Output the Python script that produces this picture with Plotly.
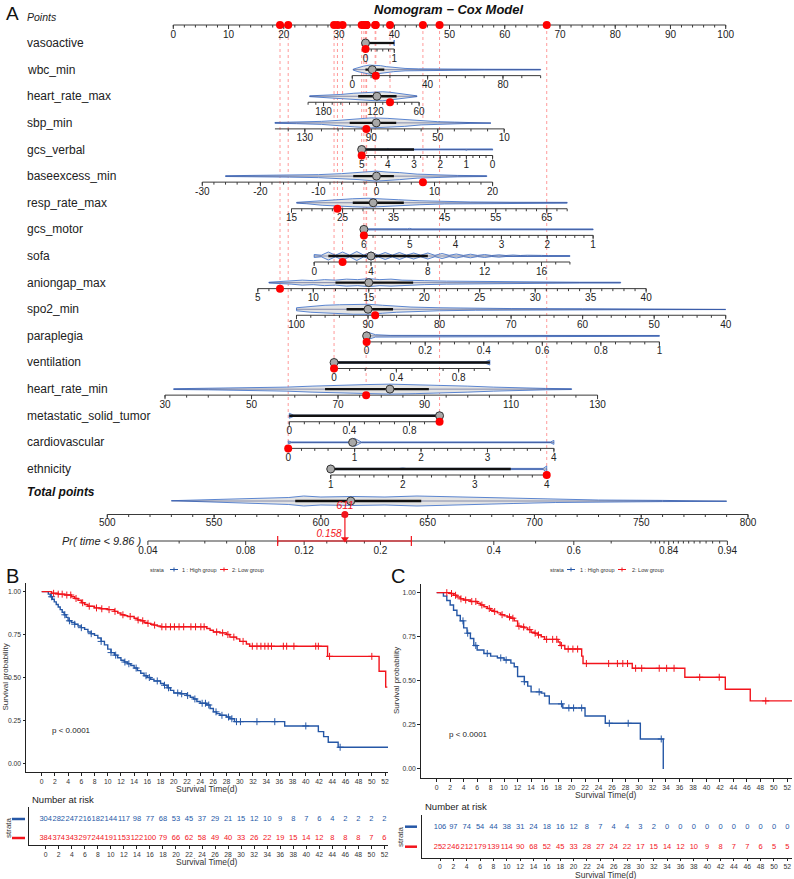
import numpy as np
import plotly.graph_objects as go

FONT = "Liberation Sans, Arial, Helvetica, sans-serif"
W, H = 794, 879

# ======================= NOMOGRAM DATA =======================
variables = ["vasoactive", "wbc_min", "heart_rate_max", "sbp_min", "gcs_verbal",
             "baseexcess_min", "resp_rate_max", "gcs_motor", "sofa", "aniongap_max",
             "spo2_min", "paraplegia", "ventilation", "heart_rate_min",
             "metastatic_solid_tumor", "cardiovascular", "ethnicity"]

# predictor value -> points (model scale knots); first/last value = axis ends
scale_values = {
    "vasoactive": [0, 1], "wbc_min": [0, 100], "heart_rate_max": [200, 180, 120, 60],
    "sbp_min": [148, 10], "gcs_verbal": [5, 0], "baseexcess_min": [-30, 20],
    "resp_rate_max": [15, 69], "gcs_motor": [6, 1], "sofa": [0, 18],
    "aniongap_max": [5, 40], "spo2_min": [100, 40], "paraplegia": [0, 1],
    "ventilation": [0, 1], "heart_rate_min": [30, 130], "metastatic_solid_tumor": [0, 1],
    "cardiovascular": [0, 4], "ethnicity": [1, 4],
}
scale_points = {
    "vasoactive": [34.8, 40.0], "wbc_min": [32.4, 66.5], "heart_rate_max": [24.4, 27.2, 36.6, 44.5],
    "sbp_min": [18.4, 59.9], "gcs_verbal": [34.1, 57.8], "baseexcess_min": [5.25, 57.8],
    "resp_rate_max": [21.4, 71.3], "gcs_motor": [34.5, 76.0], "sofa": [25.5, 71.8],
    "aniongap_max": [15.3, 85.6], "spo2_min": [22.3, 100.0], "paraplegia": [35.0, 88.0],
    "ventilation": [29.1, 57.3], "heart_rate_min": [-1.5, 76.8], "metastatic_solid_tumor": [21.0, 48.2],
    "cardiovascular": [20.8, 68.9], "ethnicity": [28.5, 67.6],
}
tick_labels = {
    "vasoactive": [0, 1], "wbc_min": [0, 40, 80], "heart_rate_max": [180, 120, 60],
    "sbp_min": [130, 90, 50, 10], "gcs_verbal": [5, 4, 3, 2, 1, 0],
    "baseexcess_min": [-30, -20, -10, 0, 10, 20], "resp_rate_max": [15, 25, 35, 45, 55, 65],
    "gcs_motor": [6, 5, 4, 3, 2, 1], "sofa": [0, 4, 8, 12, 16],
    "aniongap_max": [5, 10, 15, 20, 25, 30, 35, 40], "spo2_min": [100, 90, 80, 70, 60, 50, 40],
    "paraplegia": [0, 0.2, 0.4, 0.6, 0.8, 1], "ventilation": [0, 0.4, 0.8],
    "heart_rate_min": [30, 50, 70, 90, 110, 130], "metastatic_solid_tumor": [0, 0.4, 0.8],
    "cardiovascular": [0, 1, 2, 3, 4], "ethnicity": [1, 2, 3, 4],
}
minor_step = {
    "vasoactive": 0.2, "wbc_min": 10, "heart_rate_max": 10, "sbp_min": 10, "gcs_verbal": 0.25,
    "baseexcess_min": 2, "resp_rate_max": 2, "gcs_motor": 0.2, "sofa": 1, "aniongap_max": 1,
    "spo2_min": 2, "paraplegia": 0.05, "ventilation": 0.1, "heart_rate_min": 5,
    "metastatic_solid_tumor": 0.1, "cardiovascular": 0.2, "ethnicity": 0.2,
}
observed = {
    "vasoactive": 0, "wbc_min": 12.5, "heart_rate_max": 100, "sbp_min": 93, "gcs_verbal": 5,
    "baseexcess_min": 8, "resp_rate_max": 24, "gcs_motor": 6, "sofa": 2, "aniongap_max": 7,
    "spo2_min": 89, "paraplegia": 0, "ventilation": 0, "heart_rate_min": 76.5,
    "metastatic_solid_tumor": 1, "cardiovascular": 0, "ethnicity": 4,
}
medians = {
    "vasoactive": 0, "wbc_min": 10.6, "heart_rate_max": 118, "sbp_min": 87, "gcs_verbal": 5,
    "baseexcess_min": 0, "resp_rate_max": 31, "gcs_motor": 6, "sofa": 4, "aniongap_max": 15,
    "spo2_min": 90, "paraplegia": 0, "ventilation": 0, "heart_rate_min": 82,
    "metastatic_solid_tumor": 1, "cardiovascular": 0.97, "ethnicity": 1,
}
iqr = {
    "vasoactive": [0, 1], "wbc_min": [7, 17], "heart_rate_max": [91, 140], "sbp_min": [75, 103],
    "gcs_verbal": [3, 5], "baseexcess_min": [-4, 3], "resp_rate_max": [27, 37], "gcs_motor": [6, 6],
    "sofa": [1, 8], "aniongap_max": [12, 19], "spo2_min": [86.5, 93], "paraplegia": [0, 0],
    "ventilation": [0, 1], "heart_rate_min": [67, 91], "metastatic_solid_tumor": [0, 1],
    "cardiovascular": [1, 1], "ethnicity": [1, 3.5],
}
density_values = {
    "vasoactive": [0, 0.02, 0.98, 1],
    "wbc_min": [0.5, 3, 6, 9, 12, 15, 18, 22, 28, 35, 50, 70, 100],
    "heart_rate_max": [198, 180, 160, 145, 130, 120, 110, 100, 90, 80, 70, 63],
    "sbp_min": [148, 135, 120, 110, 100, 90, 80, 70, 60, 50, 40, 30, 18],
    "gcs_verbal": [5, 4.95, 4.05, 4, 3.95, 1.05, 1, 0.95, 0.05, 0],
    "baseexcess_min": [-26, -20, -15, -10, -6, -3, 0, 2, 4, 7, 10, 14, 19],
    "resp_rate_max": [16, 18, 21, 24, 27, 30, 33, 36, 40, 45, 50, 58, 69],
    "gcs_motor": [6, 5.95, 5.05, 5, 4.95, 1.05, 1],
    "sofa": [0, 0.5, 1, 1.5, 2, 2.5, 3, 3.5, 4, 4.5, 5, 5.5, 6, 6.5, 7, 7.5, 8, 8.5, 9, 9.5,
             10, 10.5, 11, 11.5, 12, 12.5, 13, 13.5, 14, 14.5, 15, 15.5, 16, 16.5, 17, 17.5, 18],
    "aniongap_max": [6, 7, 8, 9, 10, 11, 12, 13, 14, 15, 16, 17, 18, 19, 20, 22, 24, 26, 30, 34, 37.7],
    "spo2_min": [100, 98, 96, 94, 92, 90, 88, 86, 84, 80, 75, 70, 60, 50, 40],
    "paraplegia": [0, 0.03, 0.08, 1],
    "ventilation": [0, 0.03, 0.97, 1],
    "heart_rate_min": [32, 40, 50, 58, 64, 70, 76, 82, 88, 94, 100, 106, 112, 118, 124],
    "metastatic_solid_tumor": [0, 0.03, 0.97, 1],
    "cardiovascular": [0, 0.05, 0.9, 1, 1.1, 1.95, 2, 2.05, 2.95, 3, 3.05, 3.95, 4],
    "ethnicity": [1, 1.05, 1.95, 2, 2.05, 2.95, 3, 3.05, 3.95, 4],
}
density_widths = {
    "vasoactive": [1.5, 0.5, 0.5, 3],
    "wbc_min": [0.5, 2, 3.5, 4.5, 4.5, 4, 3, 2, 1.2, 0.8, 0.5, 0.4, 0.3],
    "heart_rate_max": [0.4, 0.8, 1.8, 3, 4, 4.5, 4.5, 4, 3, 2, 1, 0.4],
    "sbp_min": [0.4, 0.8, 1.5, 2.5, 4, 5, 4.5, 3.5, 2, 1.2, 0.8, 0.5, 0.3],
    "gcs_verbal": [4, 0.4, 0.4, 1.0, 0.4, 0.4, 1.0, 0.4, 0.4, 0.6],
    "baseexcess_min": [0.4, 0.6, 1, 1.5, 2.5, 3.5, 5, 4, 3.5, 2, 1.2, 0.7, 0.4],
    "resp_rate_max": [0.4, 1, 2.5, 3.5, 4, 4.5, 4, 3, 2, 1.2, 0.8, 0.5, 0.4],
    "gcs_motor": [4, 0.6, 0.6, 1.0, 0.5, 0.4, 0.4],
    "sofa": [1.5, 0.8, 4, 0.8, 4, 0.8, 4.5, 0.8, 4, 0.8, 3.5, 0.8, 3.5, 0.8, 3, 0.8, 3, 0.7, 2.5,
             0.7, 2, 0.6, 1.8, 0.6, 1.5, 0.5, 1.2, 0.5, 1, 0.5, 0.8, 0.4, 0.6, 0.4, 0.5, 0.4, 0.4],
    "aniongap_max": [0.4, 1, 1.5, 2.5, 2, 3, 2.5, 3.5, 3, 4, 3, 3.5, 2.5, 2.5, 2, 1.5, 1.2, 1, 0.6, 0.4, 0.4],
    "spo2_min": [1.5, 3, 4, 4.5, 5, 5, 4, 3, 2.2, 1.5, 1, 0.7, 0.5, 0.4, 0.3],
    "paraplegia": [4, 1.2, 0.5, 0.4],
    "ventilation": [3.5, 0.6, 0.6, 2.5],
    "heart_rate_min": [0.4, 0.7, 1.2, 2, 3, 4, 4.5, 5, 4.5, 4, 3, 2, 1.2, 0.7, 0.4],
    "metastatic_solid_tumor": [2.5, 0.5, 0.5, 4],
    "cardiovascular": [1.5, 0.4, 0.4, 4, 0.4, 0.4, 0.9, 0.4, 0.4, 0.9, 0.4, 0.4, 2],
    "ethnicity": [4, 0.6, 0.6, 1.0, 0.6, 0.6, 1.0, 0.6, 0.6, 3],
}

points_ticks = [0, 10, 20, 30, 40, 50, 60, 70, 80, 90, 100]
total_ticks = [500, 550, 600, 650, 700, 750, 800]
total_median, total_iqr = 614, [588, 647]
total_density_values = [530, 550, 570, 585, 592, 600, 615, 630, 645, 655, 670, 690, 710, 730, 760, 790]
total_density_widths = [0.3, 1.2, 2.5, 3.5, 5, 4, 4.5, 4, 5, 4.5, 3.5, 2.5, 1.5, 1, 0.6, 0.3]
prob_ticks = [0.04, 0.08, 0.12, 0.2, 0.4, 0.6, 0.84, 0.94]
prob_minor = [0.05, 0.06, 0.07, 0.1, 0.14, 0.16, 0.18, 0.3, 0.5, 0.7, 0.8, 0.81, 0.82, 0.83,
              0.85, 0.86, 0.87, 0.88, 0.89, 0.9, 0.91, 0.92, 0.93]
cloglog_intercept, cloglog_slope = -11.295, 0.0156   # cloglog(Pr) = a + b * total points
ci_low, ci_high = 0.10, 0.244

# ======================= KM DATA =======================
time_ticks = list(range(0, 53, 2))
# Panel B
bh_t = [0, 1.0, 1.3, 1.6, 1.9, 2.2, 2.5, 2.8, 3.1, 3.4, 3.7, 4.0, 4.5, 5.0, 5.5, 6.0, 6.5, 7.0, 7.5, 8.0,
        8.5, 9.0, 9.5, 10.0, 10.5, 11.0, 11.5, 12.0, 12.5, 13.0, 13.5, 14.0, 14.5, 15.0, 15.5, 16.0,
        16.5, 17.0, 18.0, 18.5, 19.0, 19.5, 20.0, 21.0, 22.0, 22.5, 23.0, 23.5, 24.0, 25.0, 25.5, 26.0,
        26.5, 27.0, 28.0, 28.5, 29.2, 36.8, 41.9, 42.7, 43.4, 44.9]
bh_s = [1.0, 0.985, 0.97, 0.955, 0.94, 0.925, 0.91, 0.895, 0.88, 0.865, 0.85, 0.83, 0.82, 0.81, 0.80,
        0.79, 0.78, 0.765, 0.755, 0.745, 0.73, 0.71, 0.69, 0.665, 0.645, 0.63, 0.615, 0.60, 0.59, 0.58,
        0.57, 0.555, 0.54, 0.525, 0.51, 0.50, 0.49, 0.48, 0.465, 0.455, 0.44, 0.425, 0.41, 0.405, 0.395,
        0.385, 0.375, 0.36, 0.35, 0.34, 0.32, 0.30, 0.29, 0.28, 0.27, 0.26, 0.243, 0.218, 0.185, 0.156,
        0.123, 0.094]
bh_end = 52.45
bh_cens = [1.5, 3.5, 4.2, 5, 6, 7.5, 9, 10.5, 11.2, 12.6, 13.2, 14.3, 15.8, 16.3, 17.5, 18.6, 19.2,
           20.6, 21.2, 22.1, 23.2, 24.3, 24.8, 25.3, 26.4, 27.3, 28.3, 28.8, 29.5, 30.1, 32.6, 35.3, 40.0, 45.2]
bl_t = [0, 1.5, 2.5, 3.5, 4.5, 5.0, 5.5, 6.0, 6.5, 7.0, 8.0, 9.0, 10.0, 11.0, 11.5, 12.0, 12.5, 13.0,
        14.0, 14.5, 15.0, 15.5, 16.0, 16.5, 17.0, 17.5, 18.0, 25.0, 25.5, 26.0, 27.0, 28.0, 28.5, 29.5,
        30.0, 31.0, 31.5, 43.3, 51.1, 52.1]
bl_s = [1.0, 0.99, 0.985, 0.98, 0.97, 0.96, 0.95, 0.935, 0.925, 0.915, 0.905, 0.9, 0.895, 0.885, 0.875,
        0.865, 0.86, 0.855, 0.845, 0.835, 0.83, 0.82, 0.815, 0.81, 0.805, 0.80, 0.795, 0.785, 0.775,
        0.765, 0.76, 0.75, 0.735, 0.725, 0.71, 0.695, 0.682, 0.623, 0.536, 0.444]
bl_end = 52.35
bl_cens = [1.8, 2.5, 3.1, 3.8, 4.4, 5.2, 6.2, 7.2, 8.3, 9.1, 10.2, 11.1, 12.3, 13.4, 14.6, 15.3, 16.1,
           17.1, 18.2, 18.8, 19.5, 20.1, 20.8, 21.5, 22.6, 23.3, 24.1, 24.6, 26.5, 27.4, 28.2, 29.1,
           30.5, 31.9, 32.6, 33.2, 33.8, 34.3, 34.8, 36.6, 37.1, 38.2, 41.5, 41.9, 43.6, 50.0]
risk_b_high = [304, 282, 247, 216, 182, 144, 117, 98, 77, 68, 53, 45, 37, 29, 21, 15, 12, 10, 9, 8, 7, 6, 4, 2, 2, 2, 2]
risk_b_low = [384, 374, 343, 297, 244, 191, 153, 122, 100, 79, 66, 62, 58, 49, 40, 33, 26, 22, 19, 15, 14, 12, 8, 8, 8, 7, 6]
# Panel C
ch_t = [0, 1.0, 1.5, 2.0, 2.5, 3.0, 3.5, 4.0, 4.5, 5.0, 5.5, 6.0, 7.0, 8.0, 9.0, 10.0, 11.0, 11.5, 12.0,
        13.0, 13.5, 14.0, 15.5, 16.0, 16.7, 18.7, 22.0, 25.0, 30.2, 33.6]
ch_s = [1.0, 0.98, 0.955, 0.93, 0.9, 0.87, 0.84, 0.80, 0.77, 0.74, 0.70, 0.675, 0.655, 0.64, 0.63,
        0.618, 0.60, 0.58, 0.524, 0.495, 0.47, 0.437, 0.43, 0.414, 0.369, 0.346, 0.30, 0.259, 0.17, 0.0]
ch_end = 33.6
ch_cens = [3.9, 4.6, 5.8, 7.5, 9.5, 10.3, 13.0, 15.2, 18.5, 19.6, 20.3, 21.5, 25.6, 28.4, 33.3]
cl_t = [0, 2.0, 2.5, 3.0, 3.5, 4.0, 5.0, 6.0, 6.5, 7.0, 7.5, 8.0, 8.5, 9.0, 9.5, 10.0, 10.5, 11.0, 11.5,
        12.0, 12.5, 13.0, 13.5, 14.0, 14.5, 15.0, 15.5, 16.0, 18.0, 18.3, 19.0, 21.5, 21.7, 29.0, 36.8,
        42.8, 46.5]
cl_s = [1.0, 0.995, 0.985, 0.975, 0.965, 0.958, 0.95, 0.94, 0.93, 0.92, 0.91, 0.9, 0.893, 0.885, 0.875,
        0.868, 0.862, 0.855, 0.84, 0.81, 0.805, 0.80, 0.79, 0.775, 0.77, 0.76, 0.75, 0.735, 0.72, 0.70,
        0.68, 0.64, 0.598, 0.571, 0.52, 0.452, 0.386]
cl_end = 52.69
cl_cens = [1.5, 2.2, 2.8, 3.6, 4.3, 5.2, 5.8, 6.7, 7.8, 8.6, 9.7, 10.8, 11.3, 12.2, 12.9, 13.8, 14.6,
           15.1, 16.3, 17.2, 17.8, 18.5, 19.5, 20.2, 20.9, 22.2, 25.5, 26.8, 27.6, 28.3, 29.5, 30.4,
           33.0, 34.1, 35.2, 39.0, 41.9, 48.8]
risk_c_high = [106, 97, 74, 54, 44, 38, 31, 24, 18, 16, 12, 8, 7, 4, 4, 3, 2, 0, 0, 0, 0, 0, 0, 0, 0, 0, 0]
risk_c_low = [252, 246, 212, 179, 139, 114, 90, 68, 52, 45, 33, 28, 27, 24, 22, 17, 15, 14, 12, 10, 9, 8, 7, 7, 6, 5, 5]
group_names = ["1 : High group", "2: Low group"]
p_text = "p < 0.0001"

# ======================= LAYOUT CONSTANTS =======================
BLUE, RED = "#2557A6", "#F2141C"
VIO_LINE, VIO_FILL, NAVY = "#4A78CC", "#E4E4E4", "#1C2B6E"
AXC = "#3a3a3a"
PX0, PX_PER_PT = 173.3, 5.524
TOTAL_PX = (107.3, 748.0)
POINTS_Y, ROW0_Y, ROW_STEP = 25, 43, 26.625
TOTAL_LABEL_Y, TOTAL_VIO_Y, TOTAL_AXIS_Y, PR_Y = 492, 501, 514.5, 541


def px2pt(px):
    return (px - PX0) / PX_PER_PT


def to_pts(var, v):
    xs = np.array(scale_values[var], float)
    ps = np.array(scale_points[var], float)
    o = np.argsort(xs)
    return np.interp(v, xs[o], ps[o])


def total_x(tp):
    tp = np.asarray(tp, float)
    px = TOTAL_PX[0] + (tp - total_ticks[0]) / (total_ticks[-1] - total_ticks[0]) * (TOTAL_PX[1] - TOTAL_PX[0])
    return px2pt(px)


def tp_of_p(p):
    p = np.asarray(p, float)
    return (np.log(-np.log(1 - p)) - cloglog_intercept) / cloglog_slope


def row_y(i):
    return ROW0_Y + ROW_STEP * i


def fmt(v):
    return ("%g" % v)


fig = go.Figure()

# ---- axes (lines + ticks) and tick labels in the nomogram ----
ax_x, ax_y = [], []
lab_x, lab_y, lab_t = [], [], []


def add_axis(x0, x1, y, major_x, minor_x, labels, lab_off=10):
    ax_x.extend([x0, x1, None]); ax_y.extend([y, y, None])
    for xm in minor_x:
        ax_x.extend([xm, xm, None]); ax_y.extend([y, y + 2.5, None])
    for xm, t in zip(major_x, labels):
        ax_x.extend([xm, xm, None]); ax_y.extend([y, y + 4, None])
        lab_x.append(xm); lab_y.append(y + lab_off); lab_t.append(t)


# Points axis
add_axis(0, 100, POINTS_Y, points_ticks, np.arange(0, 100.01, 2), [fmt(t) for t in points_ticks])
# variable axes
for i, v in enumerate(variables):
    vals = scale_values[v]
    lo, hi = min(vals), max(vals)
    y = row_y(i) + 6
    minors = np.arange(lo, hi + 1e-9, minor_step[v])
    add_axis(to_pts(v, vals[0]), to_pts(v, vals[-1]), y,
             [to_pts(v, t) for t in tick_labels[v]], [to_pts(v, m) for m in minors],
             [fmt(t) for t in tick_labels[v]])
# total points axis
add_axis(total_x(total_ticks[0]), total_x(total_ticks[-1]), TOTAL_AXIS_Y,
         [total_x(t) for t in total_ticks], total_x(np.arange(500, 800.1, 10)),
         [fmt(t) for t in total_ticks], lab_off=9)
# probability axis
add_axis(total_x(tp_of_p(prob_ticks[0])), total_x(tp_of_p(prob_ticks[-1])), PR_Y,
         [total_x(tp_of_p(p)) for p in prob_ticks], total_x(tp_of_p(prob_minor)),
         [fmt(p) for p in prob_ticks])

# red dotted guide lines
gx, gy = [], []
obs_pts = {}
for i, v in enumerate(variables):
    p = float(to_pts(v, observed[v]))
    obs_pts[v] = p
    gx += [p, p, None]; gy += [POINTS_Y, row_y(i) + 6, None]
fig.add_trace(go.Scatter(x=gx, y=gy, mode="lines", line=dict(color="#FF9A9A", width=1, dash="dot"),
                         hoverinfo="skip", showlegend=False))

fig.add_trace(go.Scatter(x=ax_x, y=ax_y, mode="lines", line=dict(color=AXC, width=1),
                         hoverinfo="skip", showlegend=False))
fig.add_trace(go.Scatter(x=lab_x, y=lab_y, mode="text", text=lab_t,
                         textfont=dict(family=FONT, size=10, color="#222"),
                         hoverinfo="skip", showlegend=False))


# ---- violins + boxes ----
def add_violin(xs, ws, yc, q, med):
    xs = list(xs); ws = np.array(ws, float)
    px = xs + xs[::-1] + [xs[0]]
    py = list(yc - ws) + list((yc + ws)[::-1]) + [yc - ws[0]]
    fig.add_trace(go.Scatter(x=px, y=py, mode="lines", fill="toself", fillcolor=VIO_FILL,
                             line=dict(color=VIO_LINE, width=0.9), hoverinfo="skip", showlegend=False))
    fig.add_trace(go.Scatter(x=[min(xs), max(xs)], y=[yc, yc], mode="lines",
                             line=dict(color=NAVY, width=0.8), opacity=0.6, hoverinfo="skip", showlegend=False))
    if q[0] != q[1]:
        fig.add_trace(go.Scatter(x=q, y=[yc, yc], mode="lines", line=dict(color="#111", width=2.3),
                                 hoverinfo="skip", showlegend=False))
    fig.add_trace(go.Scatter(x=[med], y=[yc], mode="markers",
                             marker=dict(size=8, color="#A8A8A8", line=dict(color="#333", width=1)),
                             hoverinfo="skip", showlegend=False))


for i, v in enumerate(variables):
    add_violin([float(to_pts(v, d)) for d in density_values[v]], density_widths[v], row_y(i),
               [float(to_pts(v, q)) for q in iqr[v]], float(to_pts(v, medians[v])))
add_violin(list(total_x(total_density_values)), total_density_widths, TOTAL_VIO_Y,
           list(total_x(total_iqr)), float(total_x(total_median)))

# red dots: on points axis and on each variable axis
rx = [obs_pts[v] for v in variables] + [obs_pts[v] for v in variables]
ry = [POINTS_Y] * len(variables) + [row_y(i) + 6 for i in range(len(variables))]
fig.add_trace(go.Scatter(x=rx, y=ry, mode="markers", marker=dict(size=8, color="#FF0000"),
                         hoverinfo="skip", showlegend=False))

# total & prediction
total = sum(obs_pts.values())
prob = 1 - np.exp(-np.exp(cloglog_intercept + cloglog_slope * total))
tx = float(total_x(total))
fig.add_trace(go.Scatter(x=[total_x(tp_of_p(ci_low)), total_x(tp_of_p(ci_high))], y=[PR_Y, PR_Y],
                         mode="lines", line=dict(color=RED, width=1.2), hoverinfo="skip", showlegend=False))
for pc in (ci_low, ci_high):
    xc = float(total_x(tp_of_p(pc)))
    fig.add_trace(go.Scatter(x=[xc, xc], y=[PR_Y - 5, PR_Y + 5], mode="lines",
                             line=dict(color=RED, width=1.2), hoverinfo="skip", showlegend=False))
fig.add_trace(go.Scatter(x=[tx, tx], y=[TOTAL_AXIS_Y, PR_Y - 2], mode="lines",
                         line=dict(color=RED, width=1.2), hoverinfo="skip", showlegend=False))
fig.add_trace(go.Scatter(x=[tx], y=[PR_Y - 2], mode="markers",
                         marker=dict(symbol="triangle-down", size=7, color=RED),
                         hoverinfo="skip", showlegend=False))
fig.add_trace(go.Scatter(x=[tx], y=[TOTAL_AXIS_Y], mode="markers", marker=dict(size=7, color=RED),
                         hoverinfo="skip", showlegend=False))
fig.add_trace(go.Scatter(x=[tx, tx - 0.6], y=[TOTAL_AXIS_Y - 8, PR_Y - 6.5], mode="text",
                         text=["<i>%d</i>" % round(total), "<i>%.3f</i>" % prob],
                         textposition=["middle center", "middle left"],
                         textfont=dict(family=FONT, size=[11, 10], color=RED),
                         hoverinfo="skip", showlegend=False))


# ======================= KM PANELS =======================
def step_trace(t, s, t_end, color, xa, ya):
    fig.add_trace(go.Scatter(x=t + [t_end], y=s + [s[-1]], mode="lines", line_shape="hv",
                             line=dict(color=color, width=1.4), xaxis=xa, yaxis=ya,
                             hoverinfo="skip", showlegend=False))


def cens_trace(t, s, c, color, xa, ya):
    idx = np.searchsorted(np.array(t), np.array(c), side="right") - 1
    fig.add_trace(go.Scatter(x=c, y=[s[k] for k in idx], mode="markers",
                             marker=dict(symbol="cross-thin", size=5, line=dict(color=color, width=1)),
                             xaxis=xa, yaxis=ya, hoverinfo="skip", showlegend=False))


step_trace(bh_t, bh_s, bh_end, BLUE, "x2", "y2")
step_trace(bl_t, bl_s, bl_end, RED, "x2", "y2")
cens_trace(bh_t, bh_s, bh_cens, BLUE, "x2", "y2")
cens_trace(bl_t, bl_s, bl_cens, RED, "x2", "y2")
step_trace(ch_t, ch_s, ch_end, BLUE, "x4", "y4")
step_trace(cl_t, cl_s, cl_end, RED, "x4", "y4")
cens_trace(ch_t, ch_s, ch_cens, BLUE, "x4", "y4")
cens_trace(cl_t, cl_s, cl_cens, RED, "x4", "y4")

for xa, ya, hi, lo in (("x3", "y3", risk_b_high, risk_b_low), ("x5", "y5", risk_c_high, risk_c_low)):
    fig.add_trace(go.Scatter(x=time_ticks, y=[2] * len(hi), mode="text", text=[str(n) for n in hi],
                             textfont=dict(family=FONT, size=7.5, color=BLUE), xaxis=xa, yaxis=ya,
                             hoverinfo="skip", showlegend=False))
    fig.add_trace(go.Scatter(x=time_ticks, y=[1] * len(lo), mode="text", text=[str(n) for n in lo],
                             textfont=dict(family=FONT, size=7.5, color=RED), xaxis=xa, yaxis=ya,
                             hoverinfo="skip", showlegend=False))


def dom(a, b, total_px):
    return [a / total_px, b / total_px]


def ydom(top, bottom):
    return [1 - bottom / H, 1 - top / H]


km_x = dict(showline=True, linecolor="#222", linewidth=1, ticks="outside", ticklen=2.5, tickcolor="#222",
            tickwidth=1, tickfont=dict(family=FONT, size=6.8, color="#333"), showgrid=False, zeroline=False,
            tickmode="array", tickvals=time_ticks, ticktext=[str(t) for t in time_ticks], fixedrange=True)
km_y = dict(showline=True, linecolor="#222", linewidth=1, ticks="outside", ticklen=2.5, tickcolor="#222",
            tickwidth=1, tickfont=dict(family=FONT, size=6.8, color="#333"), showgrid=False, zeroline=False,
            tickmode="array", tickvals=[0, 0.25, 0.5, 0.75, 1.0],
            ticktext=["0.00", "0.25", "0.50", "0.75", "1.00"], fixedrange=True)
rk_y = dict(showline=True, linecolor="#222", linewidth=1, ticks="", showticklabels=False,
            showgrid=False, zeroline=False, fixedrange=True)

fig.update_layout(
    width=W, height=H, autosize=False, margin=dict(l=0, r=0, t=0, b=0),
    paper_bgcolor="white", plot_bgcolor="rgba(0,0,0,0)", hovermode=False, showlegend=False,
    xaxis=dict(domain=[0, 1], range=[px2pt(0), px2pt(W)], visible=False, fixedrange=True),
    yaxis=dict(domain=[0, 1], range=[H, 0], visible=False, fixedrange=True),
    xaxis2=dict(km_x, domain=dom(26, 388, W), range=[-2.38, 52.45], anchor="y2"),
    yaxis2=dict(km_y, domain=ydom(583, 772), range=[-0.05, 1.05], anchor="x2"),
    xaxis3=dict(km_x, domain=dom(29.3, 388, W), range=[-2.52, 52.55], anchor="y3"),
    yaxis3=dict(rk_y, domain=ydom(807, 845), range=[0.632, 2.63], anchor="x3"),
    xaxis4=dict(km_x, domain=dom(420.7, 792, W), range=[-2.37, 52.69], anchor="y4"),
    yaxis4=dict(km_y, domain=ydom(584, 778.3), range=[-0.053, 1.049], anchor="x4"),
    xaxis5=dict(km_x, domain=dom(422.3, 792, W), range=[-2.65, 52.7], anchor="y5"),
    yaxis5=dict(rk_y, domain=ydom(815, 857.7), range=[0.45, 2.585], anchor="x5"),
)

# ======================= TEXT / DECORATION =======================
ann = []


def A(px, py, text, size, color="#222", xanchor="center", angle=0, yanchor="middle"):
    ann.append(dict(x=px / W, y=1 - py / H, xref="paper", yref="paper", text=text, showarrow=False,
                    xanchor=xanchor, yanchor=yanchor, textangle=angle,
                    font=dict(family=FONT, size=size, color=color)))


A(12, 14, "A", 19, "#111")
A(449, 10, "<b><i>Nomogram \u2212 Cox Model</i></b>", 13, "#111")
A(25, 17, "<i>Points</i>", 10.5, "#222", "left")
for i, v in enumerate(variables):
    A(25, row_y(i), v, 12, "#222", "left")
A(25, TOTAL_LABEL_Y, "<b><i>Total points</i></b>", 12, "#111", "left")
A(144, PR_Y, "<i>Pr( time &lt; 9.86 )</i>", 11, "#222", "right")

# KM labels
A(12, 576, "B", 20, "#111")
A(398, 576, "C", 20, "#111")
for (x_strata, x_l1, x_t1, x_l2, x_t2) in ((148, 170, 180, 220, 230), (548, 567, 578, 618, 630)):
    A(x_strata, 569.5, "strata", 5.5, "#333", "left")
    A(x_t1, 569.5, group_names[0], 5.5, "#333", "left")
    A(x_t2, 569.5, group_names[1], 5.5, "#333", "left")
A(5, 677.5, "Survival probability", 8, "#333", angle=-90)
A(396, 681, "Survival probability", 8, "#333", angle=-90)
A(207, 788.5, "Survival Time(d)", 8.5, "#333")
A(606, 795, "Survival Time(d)", 8.5, "#333")
A(71, 730, p_text, 8, "#222")
A(468, 734, p_text, 8, "#222")
A(30, 799.5, "Number at risk", 9.5, "#222", "left")
A(423, 806.5, "Number at risk", 9.5, "#222", "left")
A(207, 862, "Survival Time(d)", 8.5, "#333")
A(606, 874.5, "Survival Time(d)", 8.5, "#333")
A(8, 828, "strata", 8, "#333", angle=-90)
A(400, 837, "strata", 8, "#333", angle=-90)
fig.update_layout(annotations=ann)

# legend glyphs and risk-table strata keys (lines in pixel space)
shapes = []


def L(x0, y0, x1, y1, color, width):
    shapes.append(dict(type="line", xref="paper", yref="paper", x0=x0 / W, x1=x1 / W,
                       y0=1 - y0 / H, y1=1 - y1 / H, line=dict(color=color, width=width)))


for x_l1, x_l2 in ((170, 220), (567, 618)):
    for xl, c in ((x_l1, BLUE), (x_l2, RED)):
        L(xl, 569.5, xl + 8, 569.5, c, 1)
        L(xl + 4, 567.5, xl + 4, 571.5, c, 1)
L(12, 819, 25, 819, BLUE, 2.5)
L(12, 838, 25, 838, RED, 2.5)
L(405, 826.7, 417, 826.7, BLUE, 2.5)
L(405, 846.7, 417, 846.7, RED, 2.5)
fig.update_layout(shapes=shapes)

fig.write_html("out.html")
